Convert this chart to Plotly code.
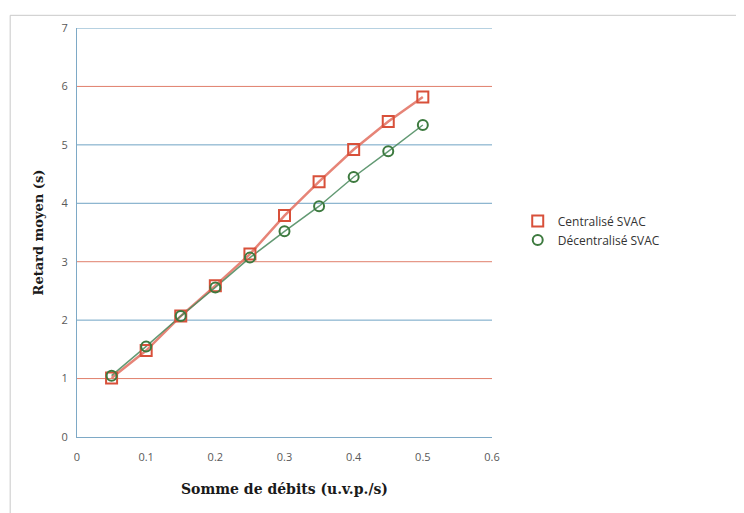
import plotly.graph_objects as go

x_vals = [0.05, 0.1, 0.15, 0.2, 0.25, 0.3, 0.35, 0.4, 0.45, 0.5]
centralise = [1.01, 1.48, 2.07, 2.59, 3.13, 3.79, 4.37, 4.92, 5.40, 5.82]
decentralise = [1.05, 1.55, 2.07, 2.56, 3.07, 3.52, 3.95, 4.45, 4.89, 5.34]

x_ticks = [0, 0.1, 0.2, 0.3, 0.4, 0.5, 0.6]
x_tick_labels = ["0", "0.1", "0.2", "0.3", "0.4", "0.5", "0.6"]
y_ticks = [0, 1, 2, 3, 4, 5, 6, 7]
grid_values = [1, 2, 3, 4, 5, 6, 7]
grid_colors = ["#e07f6b", "#6fa3c4", "#e07f6b", "#6fa3c4", "#6fa3c4", "#e07f6b", "#6fa3c4"]

red_line = "rgba(226,110,95,0.85)"
red_mark = "#d8503a"
green_line = "rgba(70,135,90,0.85)"
green_mark = "#3d7a3f"

fig = go.Figure()

# connecting lines (not in legend)
fig.add_trace(go.Scatter(x=x_vals, y=centralise, mode="lines", showlegend=False,
                         line=dict(color=red_line, width=2.5), hoverinfo="skip"))
fig.add_trace(go.Scatter(x=x_vals, y=decentralise, mode="lines", showlegend=False,
                         line=dict(color=green_line, width=1.5), hoverinfo="skip"))
# markers (in legend)
fig.add_trace(go.Scatter(
    x=x_vals, y=centralise, name="Centralisé SVAC", mode="markers",
    marker=dict(symbol="square-open", size=11, color=red_mark, line=dict(width=2, color=red_mark)),
))
fig.add_trace(go.Scatter(
    x=x_vals, y=decentralise, name="Décentralisé SVAC", mode="markers",
    marker=dict(symbol="circle-open", size=10, color=green_mark, line=dict(width=2, color=green_mark)),
))

shapes = []
for gv, gc in zip(grid_values, grid_colors):
    shapes.append(dict(type="line", xref="paper", x0=0, x1=1, yref="y", y0=gv, y1=gv,
                       line=dict(color=gc, width=1), layer="below"))
# outer chart border
shapes.append(dict(type="rect", xref="paper", yref="paper", x0=-0.161, x1=1.8, y0=-0.5, y1=1.031,
                   line=dict(color="#c9c9c9", width=1), fillcolor="rgba(0,0,0,0)", layer="below"))

fig.update_layout(
    width=744, height=513,
    margin=dict(l=69, r=260, t=14, b=84),
    paper_bgcolor="white", plot_bgcolor="white",
    shapes=shapes,
    font=dict(family="Open Sans, Liberation Sans, sans-serif", color="#595959", size=11),
    showlegend=True,
    legend=dict(x=1.062, y=0.505, xanchor="left", yanchor="middle",
                font=dict(family="Open Sans, sans-serif", size=12, color="#333333"),
                bgcolor="rgba(0,0,0,0)", tracegroupgap=2, itemwidth=30),
    xaxis=dict(range=[0, 0.6], tickvals=x_ticks, ticktext=x_tick_labels, showgrid=False,
               zeroline=False, showline=True, linecolor="#7ea9c6", linewidth=1,
               ticks="outside", ticklen=10, tickcolor="rgba(0,0,0,0)",
               title=dict(text="<b>Somme de débits (u.v.p./s)</b>", standoff=20,
                          font=dict(family="DejaVu Serif, Liberation Serif, serif", size=14, color="#1a1a1a"))),
    yaxis=dict(range=[0, 7], tickvals=y_ticks, showgrid=False, zeroline=False,
               showline=True, linecolor="#7ea9c6", linewidth=1,
               ticks="outside", ticklen=6, tickcolor="rgba(0,0,0,0)",
               title=dict(text="<b>Retard moyen (s)</b>", standoff=14,
                          font=dict(family="DejaVu Serif, Liberation Serif, serif", size=13, color="#1a1a1a"))),
)

fig.write_html("out.html")
